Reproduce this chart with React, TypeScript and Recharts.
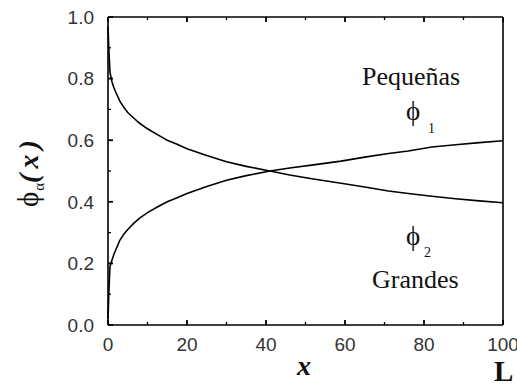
import React from "react";
import { LineChart, Line, XAxis, YAxis } from "recharts";

// Position along the system, 0..L (L = 100)
const xs = [0, 0.2, 0.5, 1, 1.5, 2, 3, 4, 5, 6.5, 8, 10, 12.5, 15, 17.5, 20, 25, 30, 35, 41, 46, 52, 59, 65, 71, 76, 82, 88, 94, 100];
// Volume fraction of the small particles (Pequeñas)
const phi1 = [0.02, 0.1, 0.19, 0.21, 0.23, 0.245, 0.275, 0.295, 0.31, 0.33, 0.347, 0.365, 0.383, 0.4, 0.413, 0.427, 0.45, 0.47, 0.485, 0.5, 0.51, 0.52, 0.532, 0.545, 0.557, 0.565, 0.578, 0.585, 0.592, 0.598];
// Volume fraction of the large particles (Grandes)
const phi2 = [0.97, 0.9, 0.82, 0.79, 0.77, 0.755, 0.727, 0.707, 0.69, 0.672, 0.655, 0.637, 0.618, 0.6, 0.587, 0.572, 0.55, 0.53, 0.515, 0.5, 0.487, 0.474, 0.46, 0.448, 0.435, 0.427, 0.418, 0.41, 0.403, 0.397];

// Tick values: every entry gets a tick mark, the labelled ones are the majors
const xTicks = [0, 10, 20, 30, 40, 50, 60, 70, 80, 90, 100];
const xLabelled = [0, 20, 40, 60, 80, 100];
const yTicks = [0, 0.1, 0.2, 0.3, 0.4, 0.5, 0.6, 0.7, 0.8, 0.9, 1.0];
const yLabelled = [0, 0.2, 0.4, 0.6, 0.8, 1.0];

const data = xs.map((x, i) => ({ x, p1: phi1[i], p2: phi2[i] }));

const W = 517;
const H = 384;
const sans = "'Liberation Sans', Arial, sans-serif";
const serif = "'Liberation Serif', 'Times New Roman', serif";
const frame = { stroke: "#000", strokeWidth: 1.6 };

const isMajor = (list: number[], v: number) => list.some((m) => Math.abs(m - v) < 1e-9);

// Inward tick marks (and outside labels where wanted) drawn from the axis position
function makeTick(side: "bottom" | "top" | "left" | "right") {
  return (props: any) => {
    const { x, y, payload } = props;
    const v = payload.value as number;
    const major = isMajor(side === "bottom" || side === "top" ? xLabelled : yLabelled, v);
    const len = side === "right" ? 4 : major ? 5 : 3;
    const sw = major ? 1.8 : 1.3;
    const c = "#000";
    if (side === "bottom") {
      return (
        <g>
          <path d={`M${x},${y}V${y - len}`} stroke={c} strokeWidth={sw} fill="none" />
          {major && (
            <text x={x} y={y + 26} textAnchor="middle" fontFamily={sans} fontSize={19} fill="#333">
              {v}
            </text>
          )}
        </g>
      );
    }
    if (side === "top") {
      return <path d={`M${x},${y}V${y + len}`} stroke={c} strokeWidth={sw} fill="none" />;
    }
    if (side === "left") {
      return (
        <g>
          <path d={`M${x},${y}H${x + len}`} stroke={c} strokeWidth={sw} fill="none" />
          {major && (
            <text x={x - 14} y={y + 6.8} textAnchor="end" fontFamily={sans} fontSize={19} fill="#333">
              {v.toFixed(1)}
            </text>
          )}
        </g>
      );
    }
    return <path d={`M${x},${y}H${x - len}`} stroke={c} strokeWidth={1.4} fill="none" />;
  };
}

export default function App() {
  return (
    <div style={{ position: "absolute", left: 0, top: 0, width: W, height: H, background: "#fff" }}>
      <LineChart width={W} height={H} data={data} margin={{ top: 16, right: 13, bottom: 58, left: 107 }}>
        <XAxis xAxisId="b" dataKey="x" type="number" domain={[0, 100]} ticks={xTicks} height={1}
          orientation="bottom" tickSize={0} tickMargin={0} interval={0} tickLine={false}
          axisLine={frame} tick={makeTick("bottom")} />
        <XAxis xAxisId="t" dataKey="x" type="number" domain={[0, 100]} ticks={xTicks} height={1}
          orientation="top" tickSize={0} tickMargin={0} interval={0} tickLine={false}
          axisLine={frame} tick={makeTick("top")} />
        <YAxis yAxisId="l" type="number" domain={[0, 1]} ticks={yTicks} width={1}
          orientation="left" tickSize={0} tickMargin={0} interval={0} tickLine={false}
          axisLine={frame} tick={makeTick("left")} />
        <YAxis yAxisId="r" type="number" domain={[0, 1]} ticks={yTicks} width={1}
          orientation="right" tickSize={0} tickMargin={0} interval={0} tickLine={false}
          axisLine={frame} tick={makeTick("right")} />

        <Line xAxisId="b" yAxisId="l" type="linear" dataKey="p1" stroke="#000" strokeWidth={1.6}
          dot={false} isAnimationActive={false} />
        <Line xAxisId="b" yAxisId="l" type="linear" dataKey="p2" stroke="#000" strokeWidth={1.6}
          dot={false} isAnimationActive={false} />
      </LineChart>

      {/* axis titles and curve annotations */}
      <svg width={W} height={H} style={{ position: "absolute", left: 0, top: 0, pointerEvents: "none" }}>
        <g transform="translate(38, 207) rotate(-90)" fontFamily={serif} fill="#111">
          <text x={0} y={0}>
            <tspan fontSize={29}>ϕ</tspan>
            <tspan fontSize={15} dy={6} dx={1}>α</tspan>
            <tspan fontSize={28} fontWeight="bold" fontStyle="italic" dy={-6} letterSpacing={5}>(x)</tspan>
          </text>
        </g>
        <text x={304} y={375} textAnchor="middle" fontFamily={serif} fontSize={28} fontWeight="bold" fontStyle="italic" fill="#111">x</text>
        <text x={494} y={381} fontFamily={serif} fontSize={29} fontWeight="bold" fill="#111">L</text>

        <text x={362} y={85} fontFamily={serif} fontSize={26} fill="#111">Pequeñas</text>
        <text x={413} y={120} textAnchor="middle" fontFamily={serif} fontSize={27} fill="#111">ϕ</text>
        <text x={428} y={133} fontFamily={serif} fontSize={14} fill="#111">1</text>

        <text x={413} y={245} textAnchor="middle" fontFamily={serif} fontSize={27} fill="#111">ϕ</text>
        <text x={424} y={257} fontFamily={serif} fontSize={14} fill="#111">2</text>
        <text x={372} y={288} fontFamily={serif} fontSize={26} fill="#111">Grandes</text>
      </svg>
    </div>
  );
}
